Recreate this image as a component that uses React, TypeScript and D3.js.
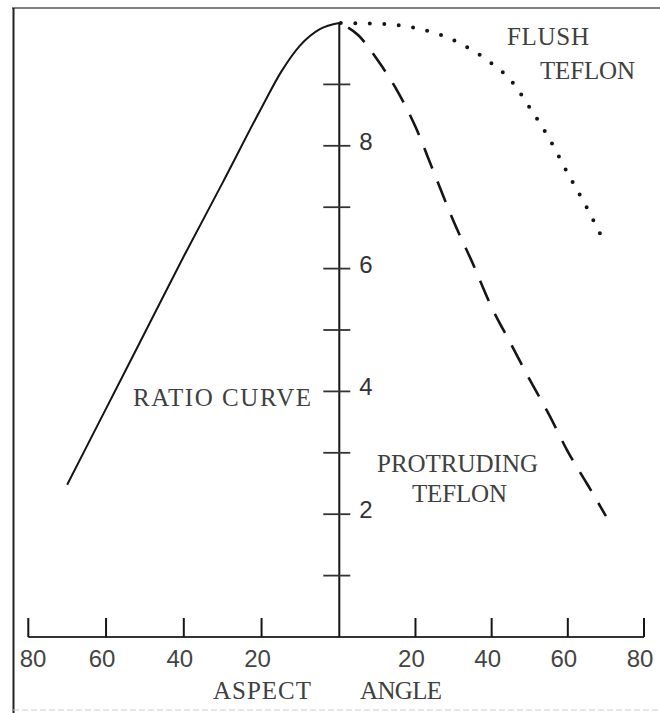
import React from "react";
import * as d3 from "d3";

// aspect angle (deg, left side negative) vs ratio
const ratioCurve: [number, number][] = [
  [-70, 2.48], [-60, 3.72], [-50, 4.96], [-40, 6.2], [-30, 7.4],
  [-20, 8.62], [-15, 9.2], [-10, 9.64], [-5, 9.9], [0, 10],
];
const protruding: [number, number][] = [
  [0, 10], [5, 9.8], [10, 9.4], [15, 8.92], [20, 8.31], [25, 7.54],
  [30, 6.77], [35, 6.09], [40, 5.37], [45, 4.78], [50, 4.19],
  [55, 3.63], [60, 3.02], [65, 2.5], [70, 1.97],
];
const flush: [number, number][] = [
  [0, 10], [10, 9.99], [20, 9.92], [30, 9.72], [40, 9.34], [45, 9.07],
  [50, 8.62], [55, 8.13], [60, 7.55], [65, 6.99], [70, 6.38],
];
const xTicks = [-80, -60, -40, -20, 20, 40, 60, 80];
const yMinorTicks = [1, 2, 3, 4, 5, 6, 7, 8, 9];
const yLabels = [2, 4, 6, 8];

const W = 660;
const H = 713;

export default function App() {
  const x = d3.scaleLinear().domain([-80, 0, 80]).range([28.3, 339.3, 644]);
  const y = d3.scaleLinear().domain([0, 10]).range([637, 23]);

  const line = d3
    .line<[number, number]>()
    .x(d => x(d[0]))
    .y(d => y(d[1]))
    .curve(d3.curveMonotoneX);

  const ink = "#151515";
  const typeInk = "#404040";
  const typeFont = "'Liberation Serif', 'DejaVu Serif', serif";
  const numFont = "'Liberation Sans', Arial, sans-serif";

  // typewriter labels: [text, x, baseline, width]
  const notes: [string, number, number, number][] = [
    ["FLUSH", 507, 45, 82],
    ["TEFLON", 540, 79, 95],
    ["RATIO CURVE", 133, 406, 178],
    ["PROTRUDING", 377, 472, 161],
    ["TEFLON", 412, 502, 95],
    ["ASPECT", 213, 699, 98],
    ["ANGLE", 360, 699, 82],
  ];

  return (
    <svg
      width={W}
      height={H}
      style={{ position: "absolute", left: 0, top: 0, background: "#fff" }}
    >
      {/* frame */}
      <line x1={12} x2={W} y1={8} y2={8} stroke="#555" strokeWidth={1.6} />
      <line x1={13.5} x2={13.5} y1={8} y2={H} stroke="#222" strokeWidth={2} />
      <line x1={13} x2={W} y1={710} y2={710} stroke="#ccc" strokeWidth={1} strokeDasharray="6 3" />

      {/* x axis */}
      <line x1={x(-80)} x2={x(80)} y1={y(0)} y2={y(0)} stroke="#333" strokeWidth={2} />
      {xTicks.map(t => (
        <g key={t}>
          <line x1={x(t)} x2={x(t)} y1={y(0)} y2={y(0) - 19} stroke={ink} strokeWidth={2} />
          <text
            x={Math.max(x(t) - 4, 33)}
            y={667}
            textAnchor="middle"
            fontFamily={numFont}
            fontSize={24}
            fill="#444"
          >
            {Math.abs(t)}
          </text>
        </g>
      ))}

      {/* y axis */}
      <line x1={x(0)} x2={x(0)} y1={y(10)} y2={y(0)} stroke={ink} strokeWidth={2} />
      {yMinorTicks.map(t => (
        <line key={t} x1={x(0) - 16} x2={x(0) + 11} y1={y(t)} y2={y(t)} stroke="#333" strokeWidth={1.8} />
      ))}
      {yLabels.map(t => (
        <text
          key={t}
          x={x(0) + 20}
          y={y(t) + 4}
          fontFamily={numFont}
          fontSize={24}
          fill="#333"
        >
          {t}
        </text>
      ))}

      {/* curves */}
      <path d={line(ratioCurve) || ""} fill="none" stroke={ink} strokeWidth={2} />
      <path
        d={line(protruding) || ""}
        fill="none"
        stroke={ink}
        strokeWidth={2.6}
        strokeDasharray="22 14"
        strokeDashoffset={-10}
      />
      <path
        d={line(flush) || ""}
        fill="none"
        stroke={ink}
        strokeWidth={4}
        strokeLinecap="round"
        strokeDasharray="0 14.5"
        strokeDashoffset={-16}
      />

      {notes.map(([s, tx, ty, w], i) => (
        <text
          key={i}
          x={tx}
          y={ty}
          fontFamily={typeFont}
          fontSize={25}
          fill={typeInk}
          textLength={w}
          lengthAdjust="spacing"
        >
          {s}
        </text>
      ))}
    </svg>
  );
}
